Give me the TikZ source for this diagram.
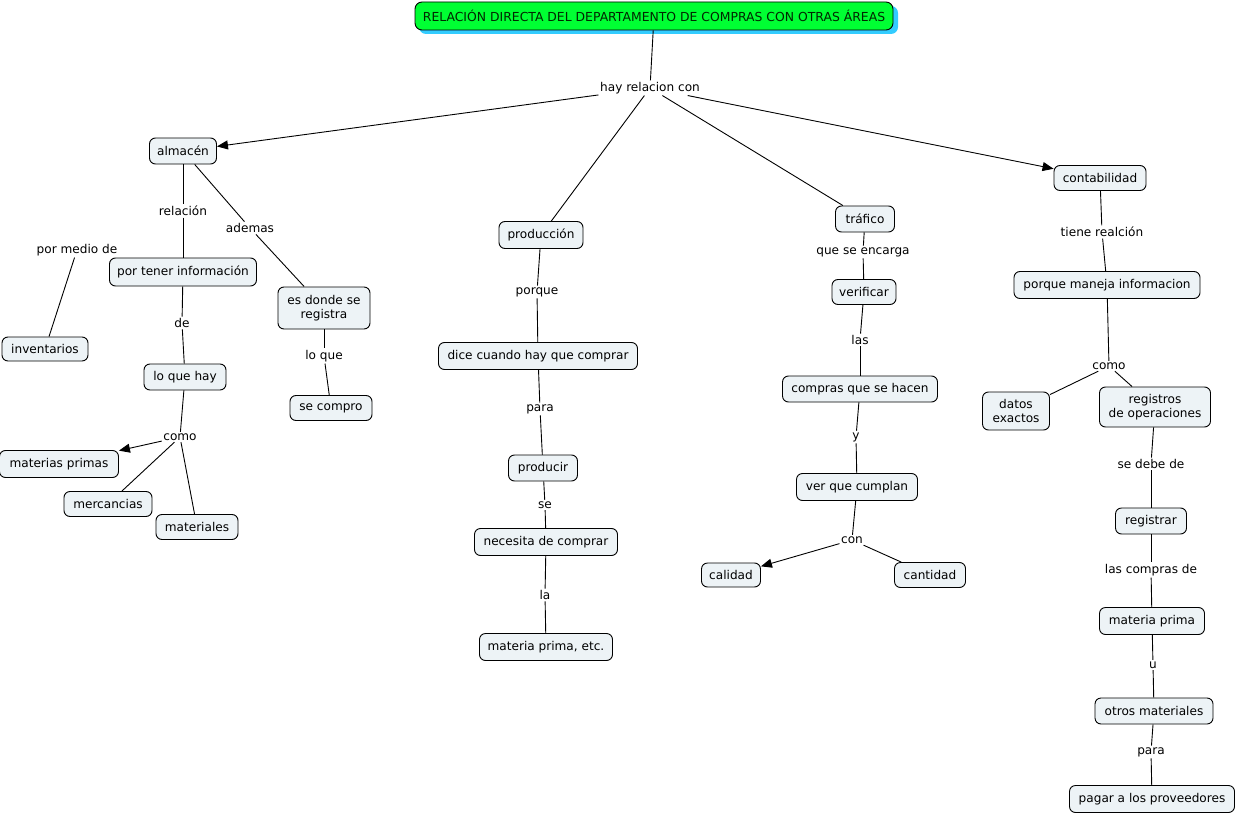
\documentclass[tikz,border=0pt]{standalone}
\usepackage{fontspec}
\setmainfont{DejaVu Sans}
\usetikzlibrary{arrows.meta}
\definecolor{boxfill}{RGB}{237,243,246}
\definecolor{titlegreen}{RGB}{0,255,51}
\definecolor{titleshadow}{RGB}{51,204,255}
\definecolor{titletext}{RGB}{0,40,0}
\begin{document}
\begin{tikzpicture}[x=1pt,y=-1pt,
  txt/.style={font=\fontsize{12.1}{14}\selectfont},
  box/.style={txt, draw=black, line width=0.9pt, rounded corners=6pt, fill=boxfill, inner sep=0pt, align=center},
  bx/.style n args={2}{box, minimum width=#1pt, minimum height=#2pt},
  lbl/.style={txt, inner sep=1.5pt},
  conn/.style={line width=0.9pt},
  arr/.style={line width=0.9pt, -{Triangle[length=11pt,width=9pt]}}]
\useasboundingbox (0,0) rectangle (1237,816);

% title
\fill[titleshadow, rounded corners=7pt] (419,6) rectangle (898,34);
\node[bx={478}{28}, fill=titlegreen, rounded corners=7pt, text=titletext, font=\fontsize{12.4}{14}\selectfont] (title) at (654,16) {RELACIÓN DIRECTA DEL DEPARTAMENTO DE COMPRAS CON OTRAS ÁREAS};

% labels
\node[lbl] (hay) at (650,88) {hay relacion con};
\node[lbl] (rel) at (183,211) {relación};
\node[lbl] (ade) at (250,228) {ademas};
\node[lbl] (pmd) at (77,250) {por medio de};
\node[lbl] (de) at (182,323) {de};
\node[lbl] (loq) at (324,356) {lo que};
\node[lbl] (como1) at (180,437) {como};
\node[lbl] (porque) at (537,292) {porque};
\node[lbl] (para1) at (540,409) {para};
\node[lbl] (se) at (545,505) {se};
\node[lbl] (la) at (545,595) {la};
\node[lbl] (qse) at (863,252) {que se encarga};
\node[lbl] (las) at (860,340) {las};
\node[lbl] (yy) at (856,437) {y};
\node[lbl] (con) at (852,540) {con};
\node[lbl] (tiene) at (1102,232) {tiene realción};
\node[lbl] (como2) at (1109,366) {como};
\node[lbl] (sedebe) at (1151,464) {se debe de};
\node[lbl] (lascomp) at (1151,570) {las compras de};
\node[lbl] (uu) at (1153,665) {u};
\node[lbl] (para2) at (1151,752) {para};

% boxes
\node[bx={67}{26}] (alm) at (183,151) {almacén};
\node[bx={92}{25}] (cont) at (1100,178) {contabilidad};
\node[bx={84}{27}] (prod) at (541,235) {producción};
\node[bx={59}{26}] (traf) at (865,219) {tráfico};
\node[bx={147}{28}] (ptener) at (183,272) {por tener información};
\node[bx={92}{42}] (esdonde) at (324,308) {es donde se\\registra};
\node[bx={86}{24}] (inv) at (45,349) {inventarios};
\node[bx={82}{26}] (loquehay) at (185,377) {lo que hay};
\node[bx={82}{25}] (secompro) at (331,408) {se compro};
\node[bx={119}{27}] (matprim) at (59,464) {materias primas};
\node[bx={88}{25}] (merc) at (108,504) {mercancias};
\node[bx={82}{25}] (mater) at (197,527) {materiales};
\node[bx={199}{27}] (dice) at (538,356) {dice cuando hay que comprar};
\node[bx={69}{26}] (producir) at (543,468) {producir};
\node[bx={143}{27}] (necesita) at (546,542) {necesita de comprar};
\node[bx={133}{27}] (mpetc) at (546,647) {materia prima, etc.};
\node[bx={64}{25}] (verif) at (864,292) {verificar};
\node[bx={155}{26}] (compras) at (860,389) {compras que se hacen};
\node[bx={121}{27}] (ver) at (857,487) {ver que cumplan};
\node[bx={59}{24}] (cal) at (731,575) {calidad};
\node[bx={71}{25}] (cant) at (930,575) {cantidad};
\node[bx={186}{27}] (pmaneja) at (1107,285) {porque maneja informacion};
\node[bx={67}{38}] (datos) at (1016,411) {datos\\exactos};
\node[bx={111}{40}] (regops) at (1155,407) {registros\\de operaciones};
\node[bx={71}{26}] (registrar) at (1151,521) {registrar};
\node[bx={105}{27}] (mprima) at (1152,621) {materia prima};
\node[bx={118}{26}] (otros) at (1154,711) {otros materiales};
\node[bx={165}{27}] (pagar) at (1152,799) {pagar a los proveedores};

% connectors
\draw[conn] (title) -- (hay);
\draw[arr] (hay) -- (alm);
\draw[conn] (hay) -- (prod);
\draw[conn] (hay) -- (traf);
\draw[arr] (hay) -- (cont);

\draw[conn] (alm) -- (rel);
\draw[conn] (rel) -- (ptener);
\draw[conn] (alm) -- (ade);
\draw[conn] (ade) -- (esdonde);
\draw[conn] (pmd) -- (inv);
\draw[conn] (ptener) -- (de);
\draw[conn] (de) -- (loquehay);
\draw[conn] (esdonde) -- (loq);
\draw[conn] (loq) -- (secompro);
\draw[conn] (loquehay) -- (como1);
\draw[arr] (como1) -- (matprim);
\draw[conn] (como1) -- (merc);
\draw[conn] (como1) -- (mater);

\draw[conn] (prod) -- (porque);
\draw[conn] (porque) -- (dice);
\draw[conn] (dice) -- (para1);
\draw[conn] (para1) -- (producir);
\draw[conn] (producir) -- (se);
\draw[conn] (se) -- (necesita);
\draw[conn] (necesita) -- (la);
\draw[conn] (la) -- (mpetc);

\draw[conn] (traf) -- (qse);
\draw[conn] (qse) -- (verif);
\draw[conn] (verif) -- (las);
\draw[conn] (las) -- (compras);
\draw[conn] (compras) -- (yy);
\draw[conn] (yy) -- (ver);
\draw[conn] (ver) -- (con);
\draw[arr] (con) -- (cal);
\draw[conn] (con) -- (cant);

\draw[conn] (cont) -- (tiene);
\draw[conn] (tiene) -- (pmaneja);
\draw[conn] (pmaneja) -- (como2);
\draw[conn] (como2) -- (datos);
\draw[conn] (como2) -- (regops);
\draw[conn] (regops) -- (sedebe);
\draw[conn] (sedebe) -- (registrar);
\draw[conn] (registrar) -- (lascomp);
\draw[conn] (lascomp) -- (mprima);
\draw[conn] (mprima) -- (uu);
\draw[conn] (uu) -- (otros);
\draw[conn] (otros) -- (para2);
\draw[conn] (para2) -- (pagar);
\end{tikzpicture}
\end{document}
